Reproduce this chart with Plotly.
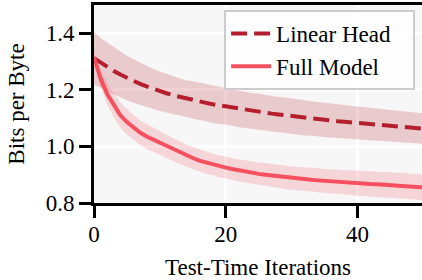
import plotly.graph_objects as go

iterations = list(range(0, 51))

linear_mean = [1.312, 1.296, 1.281, 1.267, 1.254, 1.242, 1.231, 1.221, 1.212, 1.203,
               1.195, 1.188, 1.181, 1.175, 1.169, 1.164, 1.159, 1.154, 1.149, 1.145,
               1.141, 1.137, 1.133, 1.129, 1.126, 1.122, 1.119, 1.116, 1.113, 1.110,
               1.107, 1.104, 1.101, 1.099, 1.096, 1.094, 1.091, 1.089, 1.087, 1.085,
               1.083, 1.081, 1.079, 1.077, 1.075, 1.073, 1.071, 1.069, 1.067, 1.065,
               1.063]
linear_std = [0.093, 0.088, 0.086, 0.084, 0.080, 0.079, 0.077, 0.075, 0.073, 0.071,
              0.070, 0.068, 0.068, 0.066, 0.065, 0.066, 0.066, 0.065, 0.066, 0.064,
              0.065, 0.064, 0.065, 0.064, 0.063, 0.064, 0.063, 0.063, 0.062, 0.063,
              0.062, 0.062, 0.062, 0.061, 0.061, 0.060, 0.060, 0.059, 0.059, 0.058,
              0.058, 0.058, 0.057, 0.057, 0.056, 0.056, 0.055, 0.055, 0.055, 0.054,
              0.054]

full_mean = [1.315, 1.240, 1.185, 1.145, 1.110, 1.086, 1.066, 1.049, 1.035, 1.024,
             1.012, 1.000, 0.989, 0.978, 0.968, 0.959, 0.950, 0.943, 0.936, 0.930,
             0.925, 0.920, 0.915, 0.911, 0.907, 0.903, 0.900, 0.897, 0.894, 0.891,
             0.888, 0.886, 0.884, 0.882, 0.880, 0.878, 0.876, 0.875, 0.873, 0.872,
             0.870, 0.869, 0.867, 0.866, 0.865, 0.864, 0.862, 0.861, 0.859, 0.857,
             0.855]
full_std = [0.020, 0.030, 0.038, 0.042, 0.044, 0.045, 0.044, 0.043, 0.044, 0.042,
            0.041, 0.042, 0.040, 0.041, 0.039, 0.040, 0.039, 0.040, 0.038, 0.039,
            0.039, 0.038, 0.039, 0.040, 0.039, 0.040, 0.041, 0.040, 0.041, 0.042,
            0.041, 0.042, 0.043, 0.042, 0.043, 0.042, 0.043, 0.044, 0.043, 0.044,
            0.045, 0.044, 0.045, 0.044, 0.045, 0.046, 0.045, 0.046, 0.045, 0.046,
            0.045]

x_ticks = [0, 20, 40]
y_ticks = [0.8, 1.0, 1.2, 1.4]
series_names = ["Linear Head", "Full Model"]

DARK = "#b51f2d"
LIGHT = "#f5505f"
FONT = "Liberation Serif"
PAD = "\u00a0\u00a0\u00a0"

fig = go.Figure()


def band(mean, std, fill):
    upper = [m + s for m, s in zip(mean, std)]
    lower = [m - s for m, s in zip(mean, std)]
    fig.add_trace(go.Scatter(x=iterations + iterations[::-1], y=upper + lower[::-1],
                             fill="toself", fillcolor=fill, line=dict(width=0),
                             mode="lines", hoverinfo="skip", showlegend=False))


band(linear_mean, linear_std, "rgba(181,31,45,0.2)")
band(full_mean, full_std, "rgba(245,80,95,0.2)")

fig.add_trace(go.Scatter(x=iterations, y=linear_mean, mode="lines", name=series_names[0] + PAD,
                         line=dict(color=DARK, width=4, dash="16px,7px")))
fig.add_trace(go.Scatter(x=iterations, y=full_mean, mode="lines", name=series_names[1] + PAD,
                         line=dict(color=LIGHT, width=4)))

fig.update_layout(
    width=422, height=280,
    margin=dict(l=94, r=0, t=5, b=77),
    paper_bgcolor="white", plot_bgcolor="#f7f7f7",
    font=dict(family=FONT, size=23, color="black"),
    showlegend=True,
    legend=dict(x=0.979, y=0.975, xanchor="right", yanchor="top",
                bgcolor="rgba(255,255,255,0.8)", bordercolor="#cccccc", borderwidth=2,
                font=dict(size=23, family=FONT, color="black"), tracegroupgap=0,
                itemwidth=40),
)
fig.update_xaxes(range=[0, 49.8], tickvals=x_ticks, ticks="outside", ticklen=12, tickwidth=3,
                 tickcolor="black", showline=True, linecolor="black", linewidth=3, mirror=True,
                 showgrid=True, gridcolor="white", gridwidth=2.5, zeroline=False,
                 ticklabelstandoff=-4,
                 tickfont=dict(family=FONT, size=23, color="black"),
                 title=dict(text="Test-Time Iterations", standoff=16,
                            font=dict(family=FONT, size=23, color="black")))
fig.update_yaxes(range=[0.8, 1.5], tickvals=y_ticks, tickformat=".1f", ticks="outside", ticklen=12,
                 tickwidth=3, tickcolor="black", showline=True, linecolor="black", linewidth=3,
                 showgrid=True, gridcolor="white", gridwidth=2.5, zeroline=False,
                 tickfont=dict(family=FONT, size=23, color="black"),
                 title=dict(text="Bits per Byte", standoff=15,
                            font=dict(family=FONT, size=23, color="black")))

fig.write_html("out.html", config={"displayModeBar": False},
               post_script="document.body.style.margin='0px';")
